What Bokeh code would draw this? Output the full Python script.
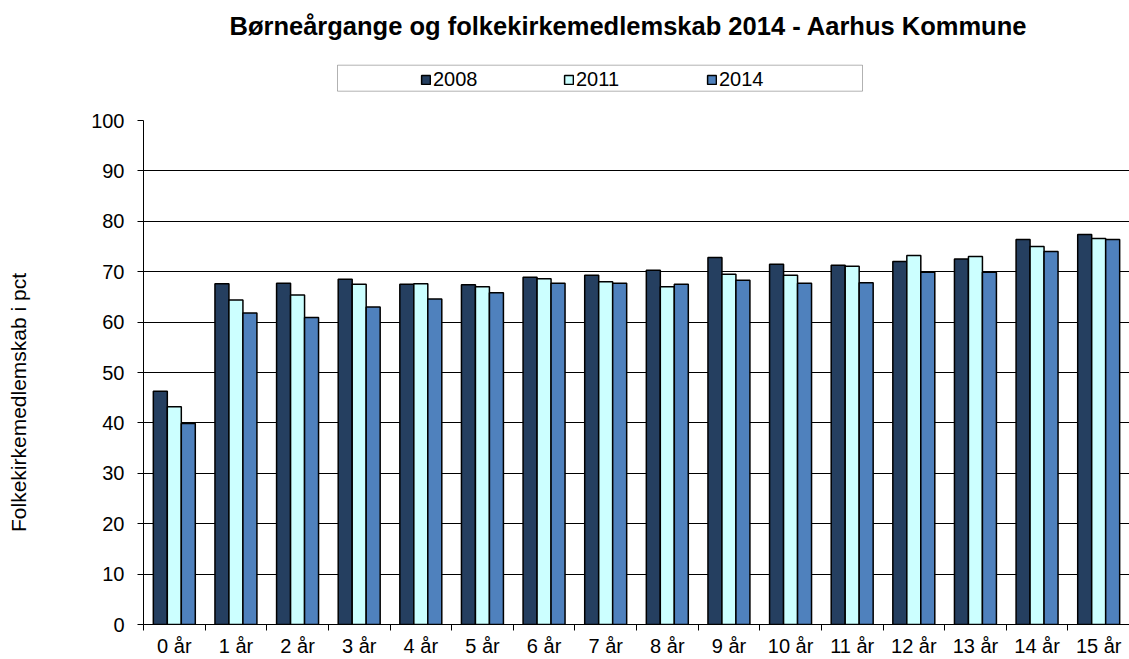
import math
from bokeh.plotting import figure
from bokeh.layouts import row, column
from bokeh.models import (ColumnDataSource, Range1d, FixedTicker, Legend, LegendItem,
                          BoxAnnotation, Title, Label)
from bokeh.transform import dodge
from bokeh.embed import file_html
from bokeh.resources import INLINE

categories = ["0 år", "1 år", "2 år", "3 år", "4 år", "5 år", "6 år", "7 år",
              "8 år", "9 år", "10 år", "11 år", "12 år", "13 år", "14 år", "15 år"]
v2008 = [46.3, 67.6, 67.7, 68.5, 67.5, 67.4, 68.9, 69.3, 70.3, 72.8, 71.5, 71.3, 72.0, 72.5, 76.4, 77.4]
v2011 = [43.2, 64.4, 65.4, 67.5, 67.6, 67.0, 68.6, 68.0, 67.0, 69.5, 69.3, 71.1, 73.2, 73.0, 75.0, 76.6]
v2014 = [39.9, 61.8, 60.9, 63.0, 64.6, 65.8, 67.7, 67.7, 67.5, 68.3, 67.7, 67.8, 69.9, 69.9, 74.0, 76.4]
series = ["2008", "2011", "2014"]
colors = ["#253F60", "#CCFFFF", "#4F81BD"]
y_ticks = [0, 10, 20, 30, 40, 50, 60, 70, 80, 90, 100]
title_text = "Børneårgange og folkekirkemedlemskab 2014 - Aarhus Kommune"
y_label_text = "Folkekirkemedlemskab i pct"

xs = list(range(len(categories)))
src = ColumnDataSource(dict(x=xs, v2008=v2008, v2011=v2011, v2014=v2014))

FONT = "Liberation Sans"
LEFT_W = 40
MAIN_W = 1129 - LEFT_W
NAN = float("nan")


def bare(fig):
    fig.outline_line_color = None
    fig.xgrid.grid_line_color = None
    fig.ygrid.grid_line_color = None
    return fig


# ---- left strip: y-axis title (page coordinates) ----
p_left = bare(figure(width=LEFT_W, height=659, output_backend="svg", toolbar_location=None,
                     x_range=Range1d(0, LEFT_W), y_range=Range1d(659, 0),
                     x_axis_type=None, y_axis_type=None,
                     min_border=0, min_border_left=0, min_border_right=0,
                     min_border_top=0, min_border_bottom=0))
p_left.add_layout(Label(x=18, y=402, text=y_label_text, angle=math.pi / 2,
                        text_align="center", text_baseline="middle", text_font=FONT,
                        text_font_size="21px", text_color="#000000"))

# ---- top strip: title + legend (y = minus page y, x = page x) ----
p_top = bare(figure(width=MAIN_W, height=100, output_backend="svg", toolbar_location=None,
                    x_range=Range1d(143, 1129), y_range=Range1d(-100, -45),
                    x_axis_type=None, y_axis_type=None,
                    min_border_left=103, min_border_right=0, min_border_top=45,
                    min_border_bottom=0))
p_top.title = Title(text=title_text, align="left", offset=86, text_font=FONT,
                    text_font_size="25.5px", text_font_style="bold",
                    text_color="#000000", standoff=12)

# legend-key proxies (no geometry: NaN coordinates are never drawn)
proxies = []
for s, c in zip(series, colors):
    proxies.append(p_top.vbar(x=[NAN], top=[NAN], bottom=[NAN], width=0.2,
                              fill_color=c, line_color="#000000", line_width=1.5))

p_top.add_layout(BoxAnnotation(left=337, right=862, top=-64.7, bottom=-90.7,
                               fill_color="#FFFFFF", fill_alpha=1.0,
                               line_color="#000000", line_width=1))
legend = Legend(items=[LegendItem(label=s, renderers=[r]) for s, r in zip(series, proxies)],
                orientation="horizontal", location=(277, 9), padding=0, margin=0,
                border_line_color=None, background_fill_alpha=0,
                glyph_width=11, glyph_height=11, label_standoff=2, label_width=100,
                spacing=30, label_text_font=FONT, label_text_font_size="20px",
                label_text_color="#000000")
p_top.add_layout(legend, "center")

# ---- main chart ----
p = figure(width=MAIN_W, height=559, output_backend="svg", toolbar_location=None,
           x_range=Range1d(-0.5, len(categories) - 0.5), y_range=Range1d(0, 100),
           min_border_left=103, min_border_right=0, min_border_top=20, min_border_bottom=0)
p.outline_line_color = None

bw = 0.227
for i, (s, c) in enumerate(zip(series, colors)):
    p.vbar(x=dodge("x", (i - 1) * bw, range=p.x_range), top="v" + s, width=bw,
           bottom=0, source=src, fill_color=c, line_color="#000000", line_width=1.5)

p.yaxis.ticker = FixedTicker(ticks=y_ticks)
p.yaxis.axis_line_color = "#000000"
p.yaxis.major_tick_line_color = "#000000"
p.yaxis.major_tick_out = 6
p.yaxis.major_tick_in = 0
p.yaxis.minor_tick_line_color = None
p.yaxis.major_label_text_font = FONT
p.yaxis.major_label_text_font_size = "20px"
p.yaxis.major_label_text_color = "#000000"
p.yaxis.major_label_standoff = 13

p.xaxis.ticker = FixedTicker(ticks=xs, minor_ticks=[x - 0.5 for x in xs] + [xs[-1] + 0.5])
p.xaxis.major_label_overrides = {x: c for x, c in zip(xs, categories)}
p.xaxis.axis_line_color = "#000000"
p.xaxis.major_tick_line_color = None
p.xaxis.major_tick_out = 6
p.xaxis.major_tick_in = 0
p.xaxis.minor_tick_line_color = "#000000"
p.xaxis.minor_tick_out = 6
p.xaxis.minor_tick_in = 0
p.xaxis.major_label_text_font = FONT
p.xaxis.major_label_text_font_size = "20px"
p.xaxis.major_label_text_color = "#000000"
p.xaxis.major_label_standoff = 4

p.xgrid.grid_line_color = None
p.ygrid.ticker = FixedTicker(ticks=y_ticks[1:])
p.ygrid.grid_line_color = "#000000"
p.ygrid.grid_line_width = 1

layout = row(p_left, column(p_top, p, spacing=0), spacing=0)
open("out.html", "w").write(file_html(layout, INLINE))
